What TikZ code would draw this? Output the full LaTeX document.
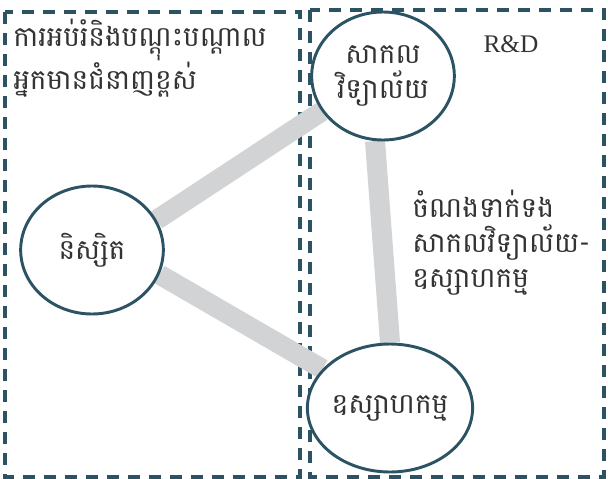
\documentclass[tikz,border=0pt]{standalone}
\usepackage{fontspec}
\setmainfont{Liberation Serif}
\newfontfamily\khmerfont[Script=Khmer]{Battambang}
\usetikzlibrary{shapes.geometric, backgrounds}
\definecolor{frameteal}{HTML}{2C5364}
\definecolor{linkgray}{HTML}{D2D3D5}
\definecolor{inkgray}{HTML}{333333}
\tikzset{
    zone/.style={
        draw=frameteal,
        line width=2.5pt,
        dash pattern=on 9pt off 6.75pt
    },
    hub/.style={
        ellipse,
        draw=frameteal,
        line width=2.2pt,
        fill=white,
        minimum width=107pt,
        minimum height=96pt,
        inner sep=0pt,
        align=center,
        text=inkgray,
        font=\khmerfont\fontsize{21}{26}\selectfont
    },
    caption/.style={
        align=left,
        inner sep=0pt,
        text=inkgray,
        font=\khmerfont\fontsize{21}{26}\selectfont
    },
    link/.style={
        draw=linkgray,
        line width=15pt
    }
}

\begin{document}
\begin{tikzpicture}[x=0.75pt, y=-0.75pt]
\useasboundingbox (0,0) rectangle (608,479);

% the three partners
\node[hub] (uni) at (383,76) {សាកល\\វិទ្យាល័យ};
\node[hub] (stud) at (92,250) {និស្សិត};
\node[hub] (ind) at (390,408) {ឧស្សាហកម្ម};

% titles
\node[caption, anchor=north west] (edu) at (13,19) {ការអប់រំនិងបណ្តុះបណ្តាល\\អ្នកមានជំនាញខ្ពស់};
\node[caption, anchor=north west] (tie) at (412,190) {ចំណងទាក់ទង\\សាកលវិទ្យាល័យ-\\ឧស្សាហកម្ម};
\node[text=inkgray, font=\fontsize{19}{22}\selectfont] (rd) at (511,44) {R\&D};

\begin{scope}[on background layer]
\draw[zone] (5,12) rectangle (300,477);
\draw[zone] (310,10) rectangle (604,477);
\path[link] (stud.25) -- (uni.210);
\path[link] (stud.-20) -- (ind.150);
\path[link] (uni.263) -- (ind.90);
\end{scope}

\end{tikzpicture}
\end{document}
